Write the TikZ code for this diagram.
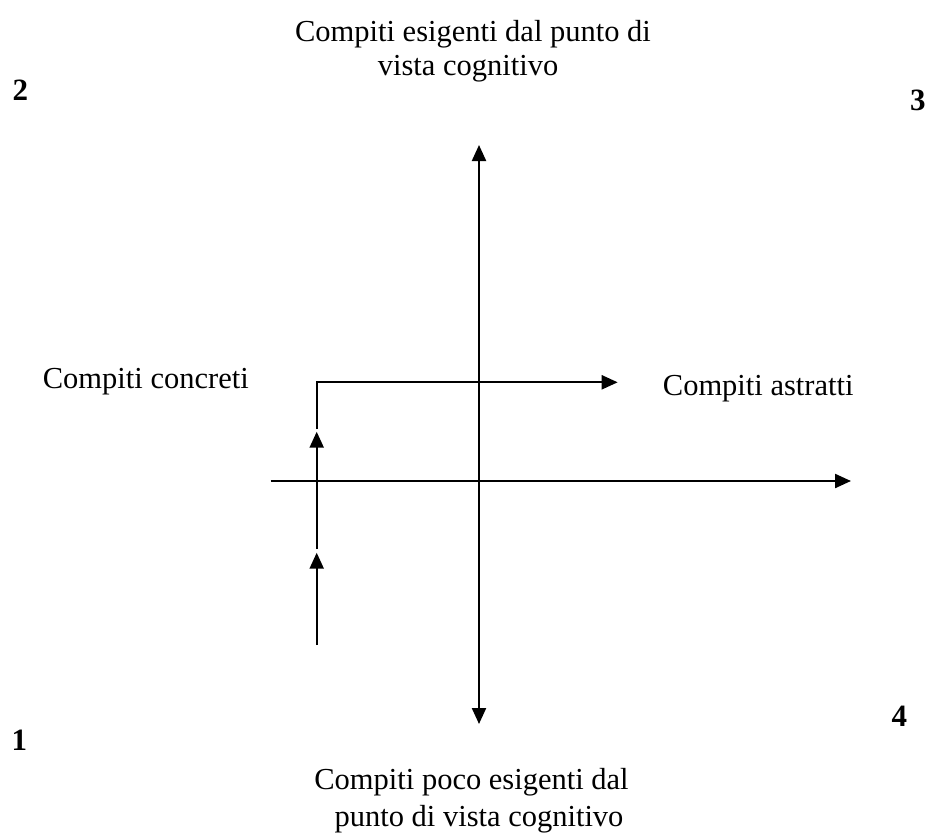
\documentclass[tikz,border=0pt]{standalone}
\usepackage{fontspec}
\setmainfont{Liberation Serif}
\usetikzlibrary{arrows.meta}
\begin{document}
\begin{tikzpicture}[x=1pt,y=-1pt,
  lbl/.style={inner sep=0pt,anchor=base,font=\fontsize{30.5}{34}\selectfont},
  lblw/.style={inner sep=0pt,anchor=base west,font=\fontsize{30.5}{34}\selectfont},
  num/.style={inner sep=0pt,anchor=base west,font=\fontsize{31}{34}\selectfont\bfseries},
  ax/.style={line width=2.2pt,-{Triangle[length=16pt,width=14pt]}},
  axx/.style={line width=2.2pt,{Triangle[length=16pt,width=14pt]}-{Triangle[length=16pt,width=14pt]}}]
\useasboundingbox (0,0) rectangle (933,838);
% labels
\node[lbl] (top1) at (473,41) {Compiti esigenti dal punto di};
\node[lbl] (top2) at (468,75) {vista cognitivo};
\node[lbl] (bot1) at (471.5,789) {Compiti poco esigenti dal};
\node[lbl] (bot2) at (479,826) {punto di vista cognitivo};
\node[lblw] (conc) at (42.7,388) {Compiti concreti};
\node[lblw] (astr) at (662.7,395) {Compiti astratti};
\node[num] (n2) at (12.5,100) {2};
\node[num] (n3) at (910,110) {3};
\node[num] (n1) at (11.5,750) {1};
\node[num] (n4) at (891.5,726.5) {4};
% axes
\coordinate (vt) at (479,145);
\coordinate (vb) at (479,724);
\coordinate (hl) at (270.5,481);
\coordinate (hr) at (851,481);
\draw[axx] (vb) -- (vt);
\draw[ax] (hl) -- (hr);
% stepped path
\coordinate (p0) at (316.7,645);
\coordinate (p1) at (316.7,552.7);
\coordinate (p2) at (316.7,549);
\coordinate (p3) at (316.7,431.7);
\coordinate (p4) at (316.7,429);
\coordinate (p5) at (316.7,382.3);
\coordinate (p6) at (617.7,382.3);
\draw[ax] (p0) -- (p1);
\draw[ax] (p2) -- (p3);
\draw[ax] (p4) -- (p5) -- (p6);
\end{tikzpicture}
\end{document}
